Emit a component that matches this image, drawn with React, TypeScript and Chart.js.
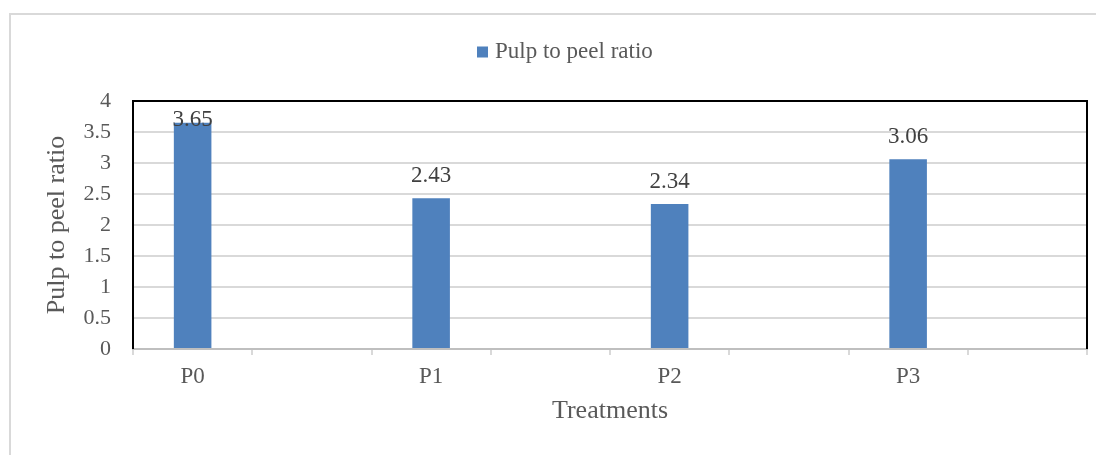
import React, { useEffect, useRef } from 'react';
import { Chart, registerables } from 'chart.js';

Chart.register(...registerables);

// ---- data ----
const treatments = ['P0', 'P1', 'P2', 'P3'];
const pulpToPeelRatio = [3.65, 2.43, 2.34, 3.06];
const seriesName = 'Pulp to peel ratio';
const xAxisTitle = 'Treatments';
const yAxisTitle = 'Pulp to peel ratio';
const yMin = 0;
const yMax = 4;
const yStep = 0.5;

// each treatment occupies one category slot followed by an empty slot
const slotLabels = treatments.flatMap((t) => [t, '']);
const slotValues = pulpToPeelRatio.flatMap((v) => [v, null]);

const FONT = '"Liberation Serif", "Times New Roman", serif';
const BAR_COLOR = '#4f81bd';
const TEXT_COLOR = '#595959';
const LABEL_COLOR = '#404040';

const decorPlugin = {
  id: 'decor',
  beforeDraw(chart: any) {
    const ctx = chart.ctx;
    ctx.save();
    ctx.fillStyle = '#ffffff';
    ctx.fillRect(0, 0, chart.width, chart.height);
    ctx.strokeStyle = '#d9d9d9';
    ctx.lineWidth = 2;
    ctx.strokeRect(2, 6, chart.width + 100, chart.height + 100);
    ctx.restore();
  },
  afterDraw(chart: any) {
    const ctx = chart.ctx;
    const a = chart.chartArea;
    ctx.save();
    // black frame on left, top, right
    ctx.strokeStyle = '#000000';
    ctx.lineWidth = 2;
    ctx.beginPath();
    ctx.moveTo(a.left, a.bottom);
    ctx.lineTo(a.left, a.top);
    ctx.lineTo(a.right, a.top);
    ctx.lineTo(a.right, a.bottom);
    ctx.stroke();

    // data labels
    const meta = chart.getDatasetMeta(0);
    ctx.font = `23px ${FONT}`;
    ctx.fillStyle = LABEL_COLOR;
    ctx.textAlign = 'center';
    ctx.textBaseline = 'alphabetic';
    meta.data.forEach((el: any, i: number) => {
      const v = chart.data.datasets[0].data[i];
      if (v === null || v === undefined) return;
      const y = Math.max(el.y - 16, a.top + 24.5);
      ctx.fillText(v.toFixed(2), el.x, y);
    });

    // legend
    ctx.font = `23px ${FONT}`;
    ctx.textAlign = 'left';
    ctx.textBaseline = 'middle';
    ctx.fillStyle = BAR_COLOR;
    ctx.fillRect(469, 38.5, 11, 11);
    ctx.fillStyle = TEXT_COLOR;
    ctx.fillText(seriesName, 487, 44);
    ctx.restore();
  },
};

export default function App() {
  const ref = useRef<HTMLCanvasElement>(null);

  useEffect(() => {
    if (!ref.current) return;
    const chart = new Chart(ref.current, {
      type: 'bar',
      data: {
        labels: slotLabels,
        datasets: [
          {
            label: seriesName,
            data: slotValues as any,
            backgroundColor: BAR_COLOR,
            barPercentage: 0.315,
            categoryPercentage: 1,
          },
        ],
      },
      options: {
        animation: false,
        responsive: false,
        maintainAspectRatio: false,
        layout: { padding: { left: 0, top: 93, right: 17, bottom: 0 } },
        plugins: {
          legend: { display: false },
          tooltip: { enabled: false },
        },
        scales: {
          x: {
            grid: {
              drawOnChartArea: false,
              drawTicks: true,
              tickLength: 6,
              color: '#d9d9d9',
              lineWidth: 2,
              offset: true,
            },
            border: { color: '#bfbfbf', width: 2 },
            ticks: {
              color: TEXT_COLOR,
              font: { family: FONT, size: 23 },
              padding: 8,
              maxRotation: 0,
              autoSkip: false,
            },
            title: {
              display: true,
              text: xAxisTitle,
              color: TEXT_COLOR,
              font: { family: FONT, size: 26 },
              padding: { top: 0, bottom: 28 },
            },
            afterFit(s: any) {
              s.height = 106;
            },
          },
          y: {
            min: yMin,
            max: yMax,
            ticks: {
              stepSize: yStep,
              color: TEXT_COLOR,
              font: { family: FONT, size: 22 },
              padding: 22,
              callback: (v: any) => String(Number(v)),
            },
            grid: { color: '#d9d9d9', lineWidth: 2, drawTicks: false },
            border: { display: false },
            title: {
              display: true,
              text: yAxisTitle,
              color: TEXT_COLOR,
              font: { family: FONT, size: 26 },
              padding: { top: 34, bottom: 0 },
            },
            afterFit(s: any) {
              s.width = 125;
            },
          },
        },
      },
      plugins: [decorPlugin],
    });
    return () => chart.destroy();
  }, []);

  return (
    <div style={{ width: 1096, height: 447 }}>
      <canvas ref={ref} width={1096} height={447} style={{ display: 'block' }} />
    </div>
  );
}
